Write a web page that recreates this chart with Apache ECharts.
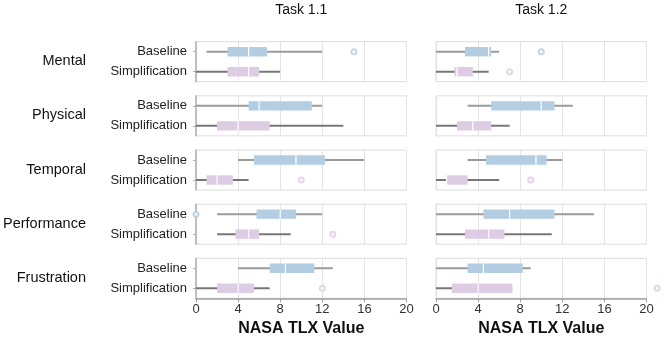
<!DOCTYPE html>
<html>
<head>
<meta charset="utf-8">
<script src="https://cdn.jsdelivr.net/npm/echarts@6/dist/echarts.min.js"></script>
<style>
    html, body { margin: 0; padding: 0; background: #fff; }
    #chart { width: 664px; height: 338px; }
</style>
</head>
<body>
<div id="chart"></div>
<script>
    const tasks = ['Task 1.1', 'Task 1.2']
    const facets = ['Mental', 'Physical', 'Temporal', 'Performance', 'Frustration']
    const categories = ['Baseline', 'Simplification']

    // [min, q1, median, q3, max] per facet
    const task11Baseline = [
        [1, 3, 5, 6.75, 12],
        [0, 5, 6, 11, 12],
        [4, 5.5, 9.5, 12.25, 16],
        [2, 5.75, 8, 9.5, 12],
        [4, 7, 8.5, 11.25, 13]
    ]
    const task11Simplification = [
        [0, 3, 5, 6, 8],
        [0, 2, 4, 7, 14],
        [0, 1, 2, 3.5, 5],
        [2, 3.75, 5, 6, 9],
        [0, 2, 4, 5.5, 7]
    ]
    const task12Baseline = [
        [0, 2.75, 5, 5.25, 6],
        [3, 5.25, 10, 11.25, 13],
        [3, 4.75, 9.5, 10.5, 12],
        [0, 4.5, 7, 11.25, 15],
        [0, 3, 4.5, 8.25, 9]
    ]
    const task12Simplification = [
        [0, 1.75, 2, 3.5, 5],
        [0, 2, 3.5, 5.25, 7],
        [0, 1, 1, 3, 6],
        [0, 2.75, 5, 6.5, 11],
        [0, 1.5, 4, 7.25, 7.25]
    ]
    // [facet index, category index, value]
    const task11Outliers = [[0, 0, 15], [2, 1, 10], [3, 0, 0], [3, 1, 13], [4, 1, 12]]
    const task12Outliers = [[0, 0, 10], [0, 1, 7], [2, 1, 9], [4, 1, 21]]

    const boxColors = ['#b3cde3', '#decbe4']
    const whiskerColors = ['#9a9a9a', '#777777']

    const taskData = [
        { baseline: task11Baseline, simplification: task11Simplification, outliers: task11Outliers },
        { baseline: task12Baseline, simplification: task12Simplification, outliers: task12Outliers }
    ]

    const font = 'Liberation Sans, Arial, sans-serif'
    const panelLeft = [196, 436]
    const panelWidth = 210.5
    const panelTop = 41.7
    const panelStep = 54.15
    const panelHeight = 40

    function renderBox(params, api) {
        let cat = api.value(0)
        let lo = api.coord([api.value(1), cat])
        let q1 = api.coord([api.value(2), cat])
        let med = api.coord([api.value(3), cat])
        let q3 = api.coord([api.value(4), cat])
        let hi = api.coord([api.value(5), cat])
        let h = 9.4
        let y = lo[1]
        return {
            type: 'group',
            children: [
                {
                    type: 'line',
                    shape: { x1: lo[0], y1: y, x2: hi[0], y2: y },
                    style: { stroke: whiskerColors[cat], lineWidth: 2 }
                },
                {
                    type: 'rect',
                    shape: { x: q1[0], y: y - h / 2, width: q3[0] - q1[0], height: h },
                    style: { fill: boxColors[cat], stroke: null }
                },
                {
                    type: 'line',
                    shape: { x1: med[0], y1: y - h / 2, x2: med[0], y2: y + h / 2 },
                    style: { stroke: '#ffffff', lineWidth: 1.2 }
                }
            ]
        }
    }

    let grids = []
    let xAxes = []
    let yAxes = []
    let series = []
    let graphics = []

    for (let t = 0; t < tasks.length; t++) {
        for (let f = 0; f < facets.length; f++) {
            let idx = grids.length
            let bottom = f === facets.length - 1
            grids.push({
                left: panelLeft[t],
                top: panelTop + f * panelStep,
                width: panelWidth,
                height: panelHeight,
                show: true,
                borderColor: '#dcdcdc',
                borderWidth: 1
            })
            xAxes.push({
                gridIndex: idx,
                type: 'value',
                min: 0,
                max: 20,
                interval: 4,
                axisLine: { show: bottom, lineStyle: { color: '#a0a0a0', width: 1.5 } },
                axisTick: { show: bottom, length: 4, lineStyle: { color: '#a0a0a0' } },
                axisLabel: { show: bottom, fontSize: 13, color: '#333', fontFamily: font, margin: 5 },
                splitLine: { show: true, lineStyle: { color: '#e4e4e4', width: 1 } },
                name: bottom ? 'NASA TLX Value' : '',
                nameLocation: 'middle',
                nameGap: 22,
                nameTextStyle: { fontSize: 16, fontWeight: 'bold', color: '#111', fontFamily: font }
            })
            yAxes.push({
                gridIndex: idx,
                type: 'category',
                data: categories,
                inverse: true,
                offset: 4,
                axisLine: { show: t === 0, lineStyle: { color: '#b0b0b0', width: 1.5 } },
                axisTick: { show: t === 0, length: 3, alignWithLabel: true, lineStyle: { color: '#b0b0b0' } },
                axisLabel: { show: t === 0, fontSize: 13, color: '#222', fontFamily: font, margin: 5 },
                splitLine: { show: false }
            })

            let d = taskData[t]
            series.push({
                type: 'custom',
                xAxisIndex: idx,
                yAxisIndex: idx,
                renderItem: renderBox,
                encode: { y: 0, x: [1, 2, 3, 4, 5] },
                data: [
                    [0].concat(d.baseline[f]),
                    [1].concat(d.simplification[f])
                ],
                silent: true
            })
            let outs = d.outliers.filter(o => o[0] === f)
            if (outs.length) {
                series.push({
                    type: 'scatter',
                    xAxisIndex: idx,
                    yAxisIndex: idx,
                    clip: false,
                    symbol: 'emptyCircle',
                    symbolSize: 5,
                    data: outs.map(o => ({
                        value: [o[2], o[1]],
                        itemStyle: { color: boxColors[o[1]], borderColor: boxColors[o[1]], borderWidth: 1.5 }
                    })),
                    silent: true
                })
            }
        }
    }

    for (let f = 0; f < facets.length; f++) {
        graphics.push({
            type: 'text',
            right: 664 - 86,
            top: panelTop + f * panelStep + panelHeight / 2 - 8,
            style: { text: facets[f], fontSize: 14.5, fill: '#111', fontFamily: font, textAlign: 'right' }
        })
    }

    // column titles
    for (let t = 0; t < tasks.length; t++) {
        graphics.push({
            type: 'text',
            x: panelLeft[t] + panelWidth / 2,
            y: 10,
            style: {
                text: tasks[t], fontSize: 14, fill: '#111', fontFamily: font,
                textAlign: 'center', textVerticalAlign: 'middle'
            }
        })
    }

    let myChart = echarts.init(document.getElementById('chart'))
    let option = {
        animation: false,
        backgroundColor: '#ffffff',
        grid: grids,
        xAxis: xAxes,
        yAxis: yAxes,
        series: series,
        graphic: graphics
    }
    myChart.setOption(option)
</script>
</body>
</html>
